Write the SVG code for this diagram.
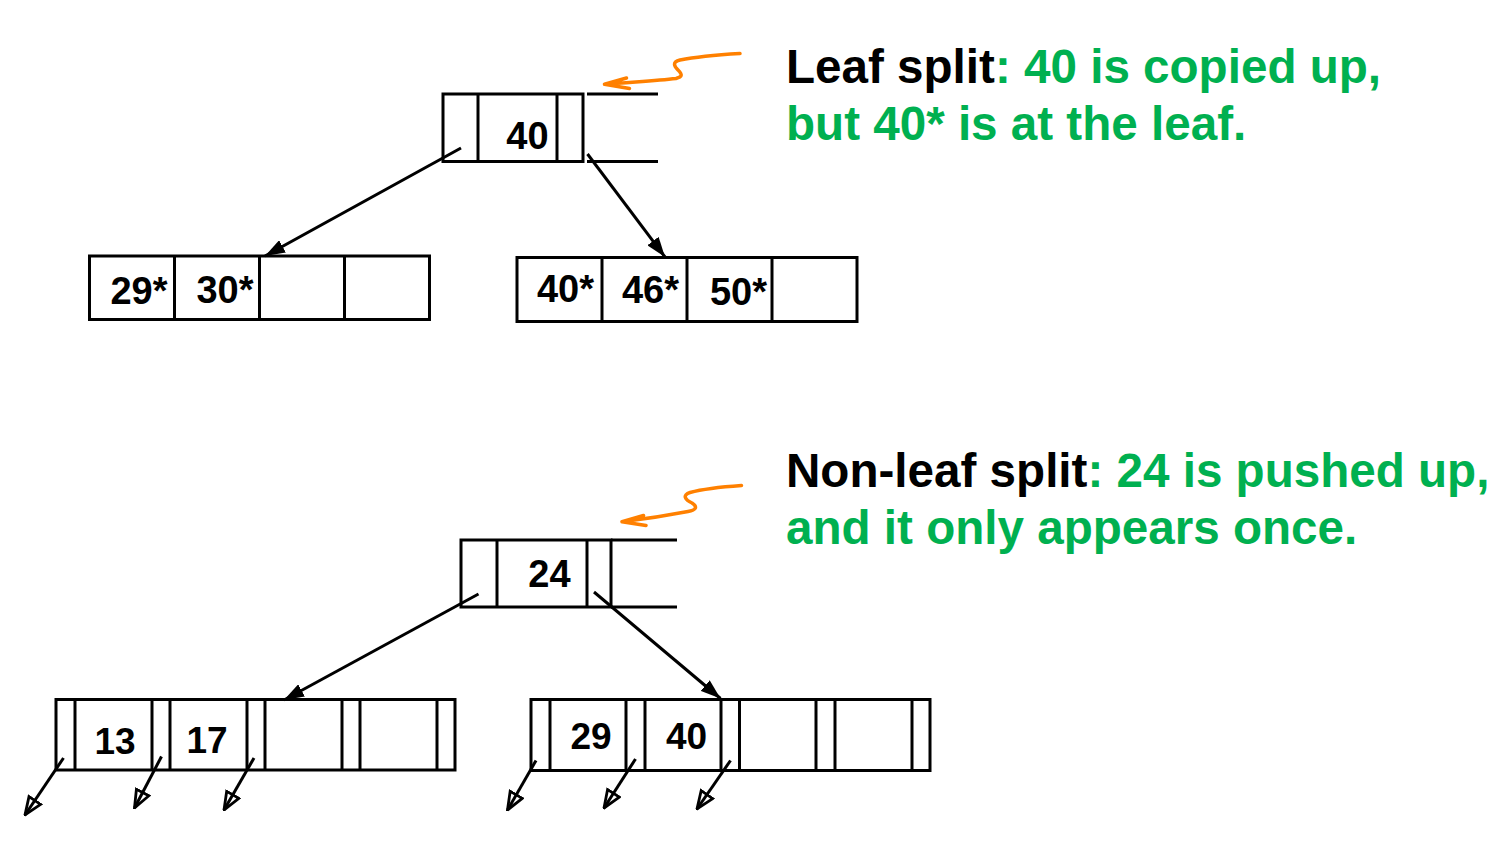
<svg xmlns="http://www.w3.org/2000/svg" width="1501" height="847" viewBox="0 0 1501 847">
<style>
.box{fill:none;stroke:#000;stroke-width:3}
.ln{stroke:#000;stroke-width:3;fill:none}
.key{font-family:"Liberation Sans",Arial,sans-serif;font-weight:bold;font-size:38px;fill:#000;text-anchor:middle}
.key2{font-family:"Liberation Sans",Arial,sans-serif;font-weight:bold;font-size:37px;fill:#000;text-anchor:middle}
.note{font-family:"Liberation Sans",Arial,sans-serif;font-weight:bold;font-size:47.6px;fill:#00B050}
.blk{fill:#000}
.conn{stroke:#000;stroke-width:3;fill:none}
.org{stroke:#FF8000;stroke-width:3.5;fill:none;stroke-linecap:round;stroke-linejoin:round}
</style>
<defs>
<marker id="fa" viewBox="0 0 20 14" refX="20" refY="7" markerWidth="20" markerHeight="14" markerUnits="userSpaceOnUse" orient="auto">
<path d="M0,0 L20,7 L0,14 z" fill="#000"/>
</marker>
<marker id="ha" viewBox="0 0 20 18" refX="19" refY="9" markerWidth="20" markerHeight="18" markerUnits="userSpaceOnUse" orient="auto">
<path d="M1.5,2 L19,9 L1.5,16 z" fill="none" stroke="#000" stroke-width="2.8" stroke-linejoin="miter"/>
</marker>
</defs>
<rect width="1501" height="847" fill="#fff"/>

<g id="root1">
<rect class="box" x="443" y="94" width="140" height="67.5"/>
<line class="ln" x1="478" y1="94" x2="478" y2="161.5"/>
<line class="ln" x1="557" y1="94" x2="557" y2="161.5"/>
<line class="ln" x1="587" y1="94" x2="658" y2="94"/>
<line class="ln" x1="587" y1="161.5" x2="658" y2="161.5"/>
<text class="key" x="527.5" y="149">40</text>
</g>

<g id="leafL">
<rect class="box" x="89.5" y="256" width="340" height="63.5"/>
<line class="ln" x1="174.5" y1="256" x2="174.5" y2="319.5"/>
<line class="ln" x1="259.5" y1="256" x2="259.5" y2="319.5"/>
<line class="ln" x1="344.5" y1="256" x2="344.5" y2="319.5"/>
<text class="key" x="139" y="304">29*</text>
<text class="key" x="225" y="303">30*</text>
</g>

<g id="leafR">
<rect class="box" x="517" y="257.5" width="340" height="64"/>
<line class="ln" x1="602" y1="257.5" x2="602" y2="321.5"/>
<line class="ln" x1="687" y1="257.5" x2="687" y2="321.5"/>
<line class="ln" x1="772" y1="257.5" x2="772" y2="321.5"/>
<text class="key" x="565.5" y="302">40*</text>
<text class="key" x="650.5" y="303">46*</text>
<text class="key" x="738.5" y="305">50*</text>
</g>

<g id="root2">
<rect class="box" x="461" y="540" width="150" height="67"/>
<line class="ln" x1="497" y1="540" x2="497" y2="607"/>
<line class="ln" x1="587" y1="540" x2="587" y2="607"/>
<line class="ln" x1="611" y1="540" x2="677" y2="540"/>
<line class="ln" x1="611" y1="607" x2="677" y2="607"/>
<text class="key" x="549.5" y="587">24</text>
</g>

<g id="inner1">
<rect class="box" x="56" y="699.5" width="399" height="70.5"/>
<line class="ln" x1="75" y1="699.5" x2="75" y2="770"/>
<line class="ln" x1="152" y1="699.5" x2="152" y2="770"/>
<line class="ln" x1="170" y1="699.5" x2="170" y2="770"/>
<line class="ln" x1="247" y1="699.5" x2="247" y2="770"/>
<line class="ln" x1="265" y1="699.5" x2="265" y2="770"/>
<line class="ln" x1="342" y1="699.5" x2="342" y2="770"/>
<line class="ln" x1="360" y1="699.5" x2="360" y2="770"/>
<line class="ln" x1="437" y1="699.5" x2="437" y2="770"/>
<text class="key2" x="115" y="754">13</text>
<text class="key2" x="207" y="753">17</text>
</g>

<g id="inner2">
<rect class="box" x="531" y="699.5" width="399" height="71"/>
<line class="ln" x1="550" y1="699.5" x2="550" y2="770.5"/>
<line class="ln" x1="626" y1="699.5" x2="626" y2="770.5"/>
<line class="ln" x1="645" y1="699.5" x2="645" y2="770.5"/>
<line class="ln" x1="721" y1="699.5" x2="721" y2="770.5"/>
<line class="ln" x1="739.5" y1="699.5" x2="739.5" y2="770.5"/>
<line class="ln" x1="816" y1="699.5" x2="816" y2="770.5"/>
<line class="ln" x1="835" y1="699.5" x2="835" y2="770.5"/>
<line class="ln" x1="912" y1="699.5" x2="912" y2="770.5"/>
<text class="key2" x="591" y="749">29</text>
<text class="key2" x="686.5" y="749">40</text>
</g>

<g id="note1">
<text class="note" x="786" y="83"><tspan class="blk">Leaf split</tspan>: 40 is copied up,</text>
<text class="note" x="786" y="140">but 40* is at the leaf.</text>
</g>

<g id="note2">
<text class="note" x="786" y="487"><tspan class="blk">Non-leaf split</tspan>: 24 is pushed up,</text>
<text class="note" x="786" y="544">and it only appears once.</text>
</g>

<g id="connectors">
<line class="conn" x1="461" y1="148" x2="265" y2="256" marker-end="url(#fa)"/>
<line class="conn" x1="587.5" y1="154" x2="665" y2="257" marker-end="url(#fa)"/>
<line class="conn" x1="478.5" y1="594" x2="284" y2="700" marker-end="url(#fa)"/>
<line class="conn" x1="594" y1="592" x2="720.5" y2="698.5" marker-end="url(#fa)"/>

<line class="conn" x1="63.5" y1="758" x2="25" y2="815" marker-end="url(#ha)"/>
<line class="conn" x1="161.5" y1="756.5" x2="134.5" y2="808" marker-end="url(#ha)"/>
<line class="conn" x1="254" y1="758" x2="224" y2="810" marker-end="url(#ha)"/>
<line class="conn" x1="536" y1="760.5" x2="507.5" y2="810" marker-end="url(#ha)"/>
<line class="conn" x1="635.5" y1="759" x2="604" y2="808" marker-end="url(#ha)"/>
<line class="conn" x1="730.5" y1="760.5" x2="697" y2="809" marker-end="url(#ha)"/>

<path class="org" d="M740,53.5 C715,55 695,57 680,60 C672,62 674,66 678,70 C683,75 682,77 676,78.5 C655,81 630,82 604.5,84.3 M626.5,78 L604.5,84.3 L629.5,88.5"/>
<path class="org" d="M741.5,485.5 C720,487 703,489 690,492.5 C682,495 685,500 692,503 C698,507 696,510 688,511.5 C670,515 645,519 622,521.7 M643.5,515.5 L622,521.7 L646,525.5"/>
</g>
</svg>
